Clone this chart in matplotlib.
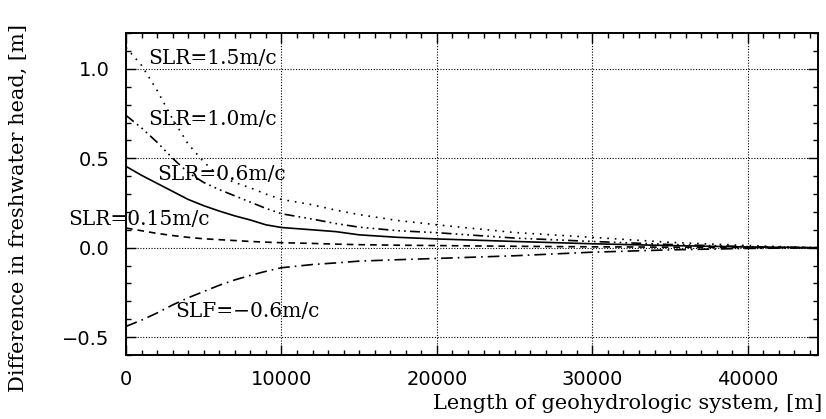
import matplotlib
matplotlib.use("Agg")
import matplotlib.pyplot as plt
from matplotlib.ticker import MultipleLocator

# ---- data ----
x = [0, 1000, 2000, 3000, 4000, 5000, 6000, 7000, 8000, 9000, 10000,
     12000, 13500, 15000, 17500, 20000, 25000, 30000, 35000, 40000, 44500]
slr_150 = [1.12, 1.02, 0.88, 0.72, 0.58, 0.48, 0.40, 0.365, 0.335, 0.30, 0.27,
           0.24, 0.21, 0.185, 0.152, 0.128, 0.085, 0.058, 0.030, 0.012, 0.0]
slr_100 = [0.74, 0.67, 0.59, 0.50, 0.42, 0.365, 0.325, 0.29, 0.255, 0.22, 0.19,
           0.16, 0.135, 0.115, 0.095, 0.084, 0.054, 0.035, 0.018, 0.006, 0.0]
slr_060 = [0.455, 0.405, 0.36, 0.315, 0.27, 0.235, 0.205, 0.178, 0.155, 0.128, 0.113,
           0.10, 0.09, 0.072, 0.058, 0.049, 0.035, 0.022, 0.012, 0.004, 0.0]
slr_015 = [0.11, 0.095, 0.08, 0.068, 0.058, 0.05, 0.045, 0.04, 0.035, 0.031, 0.028,
           0.024, 0.02, 0.017, 0.014, 0.012, 0.008, 0.005, 0.003, 0.001, 0.0]
slf_060 = [-0.44, -0.405, -0.365, -0.32, -0.28, -0.245, -0.21, -0.18, -0.155, -0.132, -0.112,
           -0.094, -0.085, -0.075, -0.067, -0.06, -0.045, -0.025, -0.012, -0.004, 0.0]

labels = ["SLR=1.5m/c", "SLR=1.0m/c", "SLR=0.6m/c", "SLR=0.15m/c", "SLF=\u22120.6m/c"]
label_pos = [(1420, 1.06), (1420, 0.715), (1995, 0.41), (-3730, 0.156), (3150, -0.356)]

xticks = [0, 10000, 20000, 30000, 40000]
yticks = [-0.5, 0.0, 0.5, 1.0]
xlabel = "Length of geohydrologic system, [m]"
ylabel = "Difference in freshwater head, [m]"

fig = plt.figure(figsize=(8.26, 4.19), dpi=100)
ax = fig.add_axes([0.1525, 0.1527, 0.8375, 0.7683])

lw = 1.2
ax.plot(x, slr_150, color="black", lw=lw, linestyle=(0, (1, 3.5)))
ax.plot(x, slr_100, color="black", lw=lw, linestyle=(0, (6, 2.5, 1, 2.5, 1, 2.5, 1, 2.5)))
ax.plot(x, slr_060, color="black", lw=lw, linestyle="-")
ax.plot(x, slr_015, color="black", lw=lw, linestyle=(0, (4, 3)))
ax.plot(x, slf_060, color="black", lw=lw, linestyle=(0, (7, 3, 1, 3)))

serif = "DejaVu Serif"
for lab, (tx, ty) in zip(labels, label_pos):
    ax.text(tx, ty, lab, family=serif, fontsize=14.5, ha="left", va="center",
            clip_on=False)

ax.set_xlim(0, 44500)
ax.set_ylim(-0.6, 1.2)
ax.set_xticks(xticks)
ax.set_yticks(yticks)
ax.set_xticklabels([str(v) for v in xticks])
ax.set_yticklabels([f"{v:.1f}".replace("-", "\u2212") for v in yticks])
ax.xaxis.set_minor_locator(MultipleLocator(1000))
ax.yaxis.set_minor_locator(MultipleLocator(0.1))

ax.grid(True, which="major", color="black", linestyle=(0, (1, 1.5)), linewidth=0.8)

ax.tick_params(which="both", direction="in", top=True, right=True, color="black")
ax.tick_params(which="major", length=7, width=1.0)
ax.tick_params(axis="x", which="major", pad=11)
ax.tick_params(axis="y", which="major", pad=12)
ax.tick_params(which="minor", length=3.5, width=1.0)
for lab in ax.get_xticklabels() + ax.get_yticklabels():
    lab.set_family("DejaVu Sans")
    lab.set_fontsize(14)
for s in ax.spines.values():
    s.set_linewidth(1.4)

fig.text(0.9955, 0.036, xlabel, family=serif, fontsize=15, ha="right", va="center")
fig.text(0.022, 0.504, ylabel, family=serif, fontsize=15, ha="center", va="center",
         rotation=90)

fig.savefig("out.png", dpi=100)
